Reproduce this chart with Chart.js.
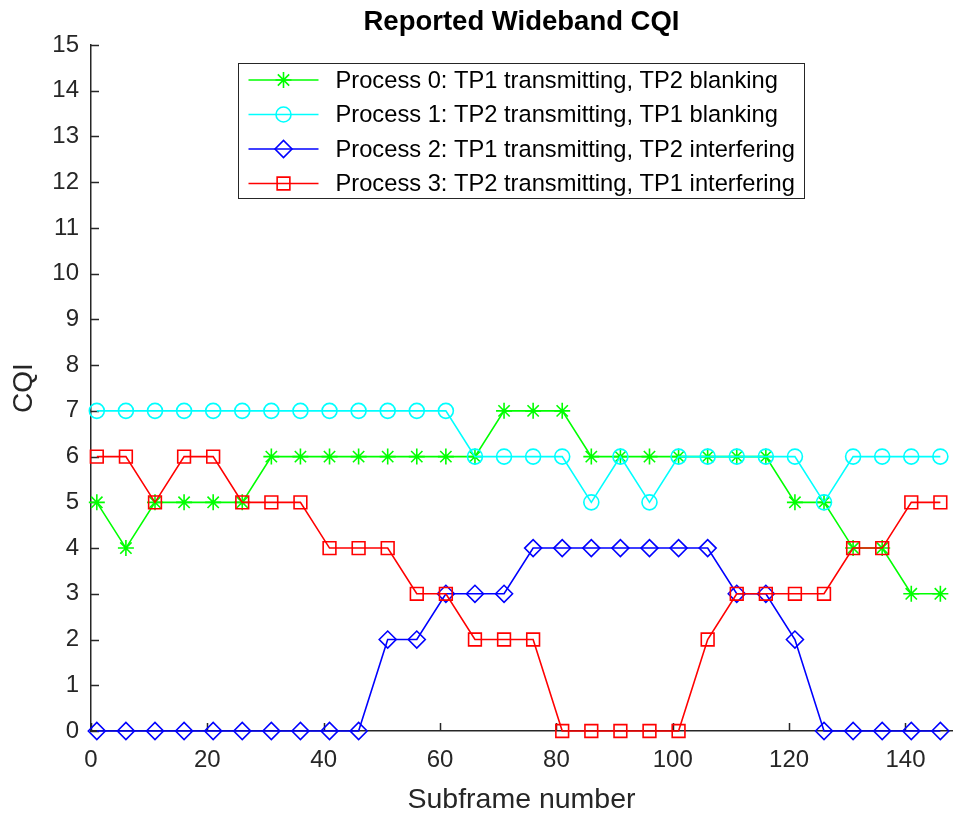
<!DOCTYPE html>
<html>
<head>
<meta charset="utf-8">
<script src="https://cdn.jsdelivr.net/npm/chart.js@4/dist/chart.umd.min.js"></script>
<style>
html,body{margin:0;padding:0;background:#fff;}
#wrap{width:953px;height:819px;position:relative;}
</style>
</head>
<body>
<div id="wrap"><canvas id="c" width="953" height="819"></canvas></div>
<script>
// ---- data ----
const subframes = [1,6,11,16,21,26,31,36,41,46,51,56,61,66,71,76,81,86,91,96,101,106,111,116,121,126,131,136,141,146];
const process0 = [5,4,5,5,5,5,6,6,6,6,6,6,6,6,7,7,7,6,6,6,6,6,6,6,5,5,4,4,3,3];
const process1 = [7,7,7,7,7,7,7,7,7,7,7,7,7,6,6,6,6,5,6,5,6,6,6,6,6,5,6,6,6,6];
const process2 = [0,0,0,0,0,0,0,0,0,0,2,2,3,3,3,4,4,4,4,4,4,4,3,3,2,0,0,0,0,0];
const process3 = [6,6,5,6,6,5,5,5,4,4,4,3,3,2,2,2,0,0,0,0,0,2,3,3,3,3,4,4,5,5];
const seriesLabels = [
  'Process 0: TP1 transmitting, TP2 blanking',
  'Process 1: TP2 transmitting, TP1 blanking',
  'Process 2: TP1 transmitting, TP2 interfering',
  'Process 3: TP2 transmitting, TP1 interfering'
];
const xTickValues = [0,20,40,60,80,100,120,140];
const yTickValues = [0,1,2,3,4,5,6,7,8,9,10,11,12,13,14,15];
const chartTitle = 'Reported Wideband CQI';
const xTitle = 'Subframe number';
const yTitle = 'CQI';

const FONT = '"Liberation Sans", Arial, Helvetica, sans-serif';
const AXIS_COLOR = '#262626';

function toPoints(vals){ return vals.map((v,i)=>({x:subframes[i], y:v})); }

const styles = [
  {color:'#00ff00', pointStyle:'star', radius:8},
  {color:'#00ffff', pointStyle:'circle', radius:7.5},
  {color:'#0000ff', pointStyle:'rectRot', radius:8.5},
  {color:'#ff0000', pointStyle:'rect', radius:9}
];
const allSeries = [process0, process1, process2, process3];

const datasets = allSeries.map((vals, i) => ({
  label: seriesLabels[i],
  data: toPoints(vals),
  borderColor: styles[i].color,
  backgroundColor: 'rgba(0,0,0,0)',
  pointBorderColor: styles[i].color,
  pointBackgroundColor: 'rgba(0,0,0,0)',
  pointStyle: styles[i].pointStyle,
  pointRadius: styles[i].radius,
  pointHoverRadius: styles[i].radius,
  pointBorderWidth: 1.6,
  borderWidth: 1.6,
  tension: 0,
  fill: false,
  clip: false,
  order: 3 - i
}));

// inward tick marks (MATLAB style)
const innerTicks = {
  id: 'innerTicks',
  beforeDatasetsDraw(chart) {
    const {ctx, chartArea, scales} = chart;
    const len = 8;
    ctx.save();
    ctx.strokeStyle = AXIS_COLOR;
    ctx.lineWidth = 1.5;
    ctx.beginPath();
    xTickValues.forEach(v => {
      const px = Math.round(scales.x.getPixelForValue(v)) + 0.5;
      ctx.moveTo(px, chartArea.bottom);
      ctx.lineTo(px, chartArea.bottom - len);
    });
    yTickValues.forEach(v => {
      const py = Math.round(scales.y.getPixelForValue(v)) + 0.5;
      ctx.moveTo(chartArea.left, py);
      ctx.lineTo(chartArea.left + len, py);
    });
    ctx.stroke();
    ctx.restore();
  }
};

// MATLAB-style legend box
const matLegend = {
  id: 'matLegend',
  afterDraw(chart) {
    const {ctx} = chart;
    const box = {left: 238.5, top: 63.5, width: 566, height: 135};
    const rowH = 34.5;
    ctx.save();
    ctx.fillStyle = '#ffffff';
    ctx.fillRect(box.left, box.top, box.width, box.height);
    ctx.strokeStyle = AXIS_COLOR;
    ctx.lineWidth = 1;
    ctx.strokeRect(box.left, box.top, box.width, box.height);
    chart.data.datasets.forEach((ds, i) => {
      const y = box.top + 16.5 + i*rowH;
      ctx.strokeStyle = ds.borderColor;
      ctx.lineWidth = 1.6;
      ctx.beginPath();
      ctx.moveTo(box.left + 10, y);
      ctx.lineTo(box.left + 80, y);
      ctx.stroke();
      ctx.fillStyle = 'rgba(0,0,0,0)';
      ctx.strokeStyle = ds.borderColor;
      Chart.helpers.drawPoint(ctx, {pointStyle: ds.pointStyle, radius: ds.pointRadius, borderWidth: 1.6, rotation: 0}, box.left + 45, y);
      ctx.fillStyle = '#000';
      ctx.font = '23.7px ' + FONT;
      ctx.textAlign = 'left';
      ctx.textBaseline = 'middle';
      ctx.fillText(ds.label, box.left + 97, y + 1);
    });
    ctx.restore();
  }
};

const chart = new Chart(document.getElementById('c'), {
  type: 'line',
  data: { datasets },
  options: {
    responsive: false,
    devicePixelRatio: 1,
    animation: false,
    events: [],
    layout: { autoPadding: false, padding: { left: 0, right: 1, top: 0, bottom: 0 } },
    plugins: {
      legend: { display: false },
      tooltip: { enabled: false },
      title: {
        display: true,
        text: chartTitle,
        fullSize: false,
        color: '#000',
        font: { family: FONT, size: 27.5, weight: 'bold' },
        padding: { top: 6, bottom: 6 }
      }
    },
    scales: {
      x: {
        type: 'linear',
        position: 'bottom',
        min: 0,
        max: 148,
        afterFit: s => { s.height = 88; s.paddingLeft = 0; s.paddingRight = 0; },
        afterBuildTicks: s => { s.ticks = xTickValues.map(v => ({value: v})); },
        ticks: {
          stepSize: 20,
          includeBounds: false,
          color: AXIS_COLOR,
          font: { family: FONT, size: 24 },
          padding: 15,
          maxRotation: 0
        },
        grid: { display: false, drawTicks: false },
        border: { display: true, color: AXIS_COLOR, width: 1.5 },
        title: {
          display: true,
          text: xTitle,
          color: AXIS_COLOR,
          font: { family: FONT, size: 28.5 },
          padding: { top: 0, bottom: 2 }
        }
      },
      y: {
        type: 'linear',
        min: 0,
        max: 15,
        afterFit: s => { s.width = 91; },
        afterBuildTicks: s => { s.ticks = yTickValues.map(v => ({value: v})); },
        ticks: {
          stepSize: 1,
          color: AXIS_COLOR,
          font: { family: FONT, size: 24 },
          padding: 12
        },
        grid: { display: false, drawTicks: false },
        border: { display: true, color: AXIS_COLOR, width: 1.5 },
        title: {
          display: true,
          text: yTitle,
          color: AXIS_COLOR,
          font: { family: FONT, size: 28 },
          padding: { top: 7, bottom: 0 }
        }
      }
    }
  },
  plugins: [innerTicks, matLegend]
});
</script>
</body>
</html>
